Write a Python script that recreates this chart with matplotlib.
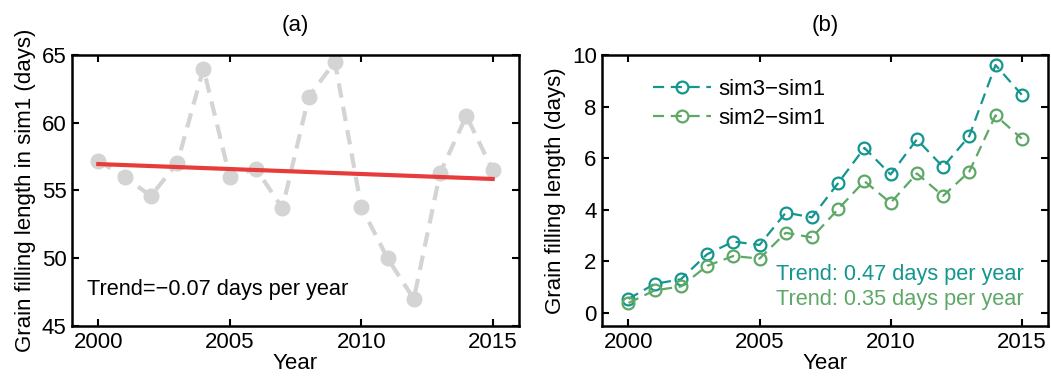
import numpy as np
import matplotlib.pyplot as plt

plt.rcParams['font.family'] = ['Liberation Sans', 'DejaVu Sans']

years = np.arange(2000, 2016)
sim1 = [57.2, 56.0, 54.6, 57.0, 64.0, 56.0, 56.6, 53.7, 61.9, 64.5, 53.8, 50.0, 47.0, 56.3, 60.5, 56.5]
trend_years = [2000, 2015]
trend_vals = [56.95, 55.85]

sim3_sim1 = [0.55, 1.13, 1.31, 2.28, 2.77, 2.64, 3.89, 3.71, 5.04, 6.40, 5.37, 6.73, 5.66, 6.86, 9.61, 8.46]
sim2_sim1 = [0.39, 0.88, 1.03, 1.83, 2.21, 2.11, 3.11, 2.93, 4.03, 5.11, 4.27, 5.41, 4.54, 5.48, 7.66, 6.76]

teal = '#14968f'
green = '#5ea867'
fs = 16

fig = plt.figure(figsize=(10.51, 3.81), dpi=100)
ax1 = fig.add_axes([0.0685, 0.1444, 0.4253, 0.7113])
ax2 = fig.add_axes([0.573, 0.1444, 0.4241, 0.7113])

# (a)
ax1.plot(years, sim1, '--o', color='#d4d4d4', lw=3, ms=10.5, dashes=(3.5, 2.2))
ax1.plot(trend_years, trend_vals, color='#e83c3c', lw=3)
ax1.set_ylim(45, 65)
ax1.set_yticks([45, 50, 55, 60, 65])
ax1.set_ylabel('Grain filling length in sim1 (days)', fontsize=fs)
ax1.text(0.033, 0.114, 'Trend=\u22120.07 days per year', transform=ax1.transAxes,
         fontsize=fs - 0.3, va='baseline')
ax1.set_title('(a)', fontsize=fs, pad=17)

# (b)
ax2.plot(years, sim3_sim1, '--o', color=teal, lw=1.6, ms=8.5, mfc='none', mew=1.6,
         dashes=(5, 3), label='sim3\u2212sim1')
ax2.plot(years, sim2_sim1, '--o', color=green, lw=1.6, ms=8.5, mfc='none', mew=1.6,
         dashes=(5, 3), label='sim2\u2212sim1')
ax2.set_ylim(-0.5, 10)
ax2.set_yticks([0, 2, 4, 6, 8, 10])
ax2.set_ylabel('Grain filling length (days)', fontsize=fs)
ax2.text(0.946, 0.17, 'Trend: 0.47 days per year', transform=ax2.transAxes,
         fontsize=fs - 0.3, color=teal, ha='right', va='baseline')
ax2.text(0.946, 0.077, 'Trend: 0.35 days per year', transform=ax2.transAxes,
         fontsize=fs - 0.3, color=green, ha='right', va='baseline')
ax2.legend(loc='upper left', bbox_to_anchor=(0.07, 0.985), frameon=False,
           fontsize=fs, handlelength=2.6, handletextpad=0.3, labelspacing=0.35)
ax2.set_title('(b)', fontsize=fs, pad=17)

for ax in (ax1, ax2):
    ax.set_xlim(1999, 2016)
    ax.set_xticks([2000, 2005, 2010, 2015])
    ax.set_xlabel('Year', fontsize=fs, labelpad=0)
    ax.tick_params(direction='in', top=True, right=True, labelsize=fs, length=5, width=1.5, pad=4)
    for s in ax.spines.values():
        s.set_linewidth(1.8)

fig.savefig('out.png', dpi=100)
